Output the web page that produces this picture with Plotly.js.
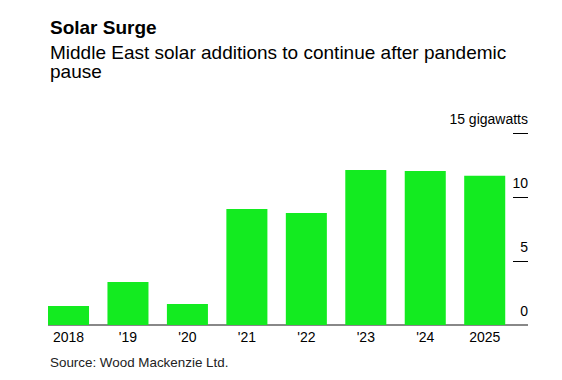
<!DOCTYPE html>
<html>
<head>
<meta charset="utf-8">
<script src="https://cdn.plot.ly/plotly-3.0.1.min.js"></script>
<style>
  html, body { margin: 0; padding: 0; background: #fff; }
  #chart { width: 562px; height: 380px; }
</style>
</head>
<body>
<div id="chart"></div>
<script>
const categories = ["2018", "'19", "'20", "'21", "'22", "'23", "'24", "2025"];
const additionsGW = [1.48, 3.36, 1.64, 9.06, 8.75, 12.1, 12.03, 11.66];
const yTickValues = [5, 10, 15];
const yTickLabels = ["5", "10", "15 gigawatts"];
const yZeroValue = [0];
const yZeroLabel = ["0"];

const FONT = "Liberation Sans, Arial, sans-serif";
const PLOT_TOP = 131, PLOT_BOTTOM = 325, PLOT_H = PLOT_BOTTOM - PLOT_TOP;
const PX_PER_GW = 12.8;
const Y_MAX = PLOT_H / PX_PER_GW;
function py(p) { return (PLOT_BOTTOM - p) / PLOT_H; }

const trace = {
  type: "bar",
  x: categories,
  y: additionsGW,
  marker: { color: "#13EB20", line: { width: 0 } },
  hoverinfo: "x+y"
};
// invisible helper trace to activate the overlay axis carrying the "0" label
const helper = {
  type: "scatter", mode: "none",
  x: [categories[0]], y: [0],
  yaxis: "y2", hoverinfo: "skip", showlegend: false
};

const yCommon = {
  side: "right",
  range: [0, Y_MAX],
  ticks: "inside",
  ticklen: 15,
  tickwidth: 1,
  ticklabelposition: "inside top",
  ticklabeloverflow: "allow",
  ticklabelshift: -4,
  ticklabelstandoff: -3,
  showgrid: false,
  showline: false,
  tickfont: { family: FONT, size: 14, color: "#000000" },
  fixedrange: true
};

const layout = {
  width: 562,
  height: 380,
  margin: { l: 48, r: 34, t: PLOT_TOP, b: 380 - PLOT_BOTTOM },
  paper_bgcolor: "#ffffff",
  plot_bgcolor: "#ffffff",
  showlegend: false,
  bargap: 0.31,
  font: { family: FONT, color: "#000000", size: 14 },
  xaxis: {
    type: "category",
    range: [-0.345, 7.728],
    showgrid: false,
    zeroline: false,
    showline: false,
    ticks: "",
    ticklabelstandoff: 2,
    tickfont: { family: FONT, size: 14, color: "#000000" },
    fixedrange: true
  },
  yaxis: Object.assign({}, yCommon, {
    tickvals: yTickValues,
    ticktext: yTickLabels,
    tickcolor: "#000000",
    zeroline: true,
    zerolinecolor: "#888888",
    zerolinewidth: 2
  }),
  yaxis2: Object.assign({}, yCommon, {
    overlaying: "y",
    tickvals: yZeroValue,
    ticktext: yZeroLabel,
    tickcolor: "rgba(0,0,0,0)",
    zeroline: false
  }),
  annotations: [
    {
      text: "<b>Solar Surge</b>",
      xref: "paper", yref: "paper",
      x: 0, y: py(27.5),
      xanchor: "left", yanchor: "middle",
      showarrow: false,
      font: { family: FONT, size: 19, color: "#000000" }
    },
    {
      text: "Middle East solar additions to continue after pandemic",
      xref: "paper", yref: "paper",
      x: 0, y: py(52.5),
      xanchor: "left", yanchor: "middle",
      showarrow: false,
      font: { family: FONT, size: 19, color: "#000000" }
    },
    {
      text: "pause",
      xref: "paper", yref: "paper",
      x: 0, y: py(71.5),
      xanchor: "left", yanchor: "middle",
      showarrow: false,
      font: { family: FONT, size: 19, color: "#000000" }
    },
    {
      text: "Source: Wood Mackenzie Ltd.",
      xref: "paper", yref: "paper",
      x: 0, y: py(362.6),
      xanchor: "left", yanchor: "middle",
      showarrow: false,
      font: { family: FONT, size: 13.4, color: "#222222" }
    }
  ]
};

Plotly.newPlot("chart", [trace, helper], layout, { displayModeBar: false, staticPlot: true });
</script>
</body>
</html>
